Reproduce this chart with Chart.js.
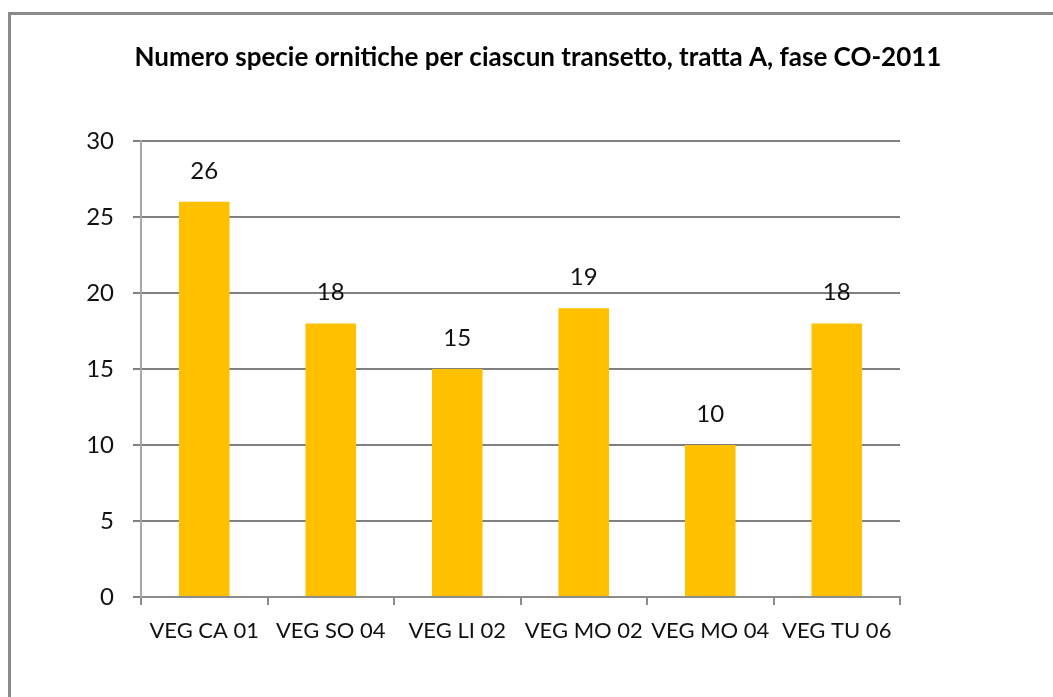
<!DOCTYPE html>
<html>
<head>
<meta charset="utf-8">
<script src="https://cdn.jsdelivr.net/npm/chart.js@4/dist/chart.umd.min.js"></script>
<style>
  html, body { margin: 0; padding: 0; background: #fff; overflow: hidden; }
  #frame { position: absolute; left: 8px; top: 12px; width: 1100px; height: 760px; border: 3px solid #8a8a8a; box-sizing: border-box; }
  #wrap { position: absolute; left: 0; top: 0; width: 1053px; height: 697px; }
</style>
</head>
<body>
<div id="frame"></div>
<div id="wrap"><canvas id="c" width="1053" height="697"></canvas></div>
<script>
const titleText = "Numero specie ornitiche per ciascun transetto, tratta A, fase CO-2011";
const categories = ["VEG CA 01", "VEG SO 04", "VEG LI 02", "VEG MO 02", "VEG MO 04", "VEG TU 06"];
const speciesCounts = [26, 18, 15, 19, 10, 18];
const yTicks = [0, 5, 10, 15, 20, 25, 30];

const FONT = "Lato, 'Open Sans', sans-serif";

const titleDraw = {
  id: 'titleDraw',
  afterDraw(chart) {
    const ctx = chart.ctx;
    ctx.save();
    ctx.font = "bold 26px " + FONT;
    ctx.fillStyle = "#000";
    ctx.textAlign = "center";
    ctx.textBaseline = "middle";
    ctx.fillText(titleText, 538, 58);
    ctx.restore();
  }
};

const valueLabels = {
  id: 'valueLabels',
  afterDatasetsDraw(chart) {
    const ctx = chart.ctx;
    ctx.save();
    ctx.font = "24px " + FONT;
    ctx.fillStyle = "#111";
    ctx.textAlign = "center";
    ctx.textBaseline = "middle";
    chart.getDatasetMeta(0).data.forEach((bar, i) => {
      ctx.fillText(String(speciesCounts[i]), bar.x, bar.y - 31);
    });
    ctx.restore();
  }
};

new Chart(document.getElementById('c'), {
  type: 'bar',
  data: {
    labels: categories,
    datasets: [{
      data: speciesCounts,
      backgroundColor: '#FFC000',
      borderWidth: 0,
      categoryPercentage: 1.0,
      barPercentage: 0.4
    }]
  },
  options: {
    responsive: false,
    animation: false,
    devicePixelRatio: 1,
    layout: { padding: { left: 23, right: 153, top: 141, bottom: 0 } },
    plugins: {
      legend: { display: false },
      tooltip: { enabled: false },
      title: { display: false }
    },
    scales: {
      x: {
        grid: { drawOnChartArea: false, drawTicks: true, tickLength: 8, color: '#8c8c8c', lineWidth: 2, offset: true },
        border: { display: true, color: '#8c8c8c', width: 2 },
        ticks: { color: '#111', font: { family: FONT, size: 22 }, padding: 13, maxRotation: 0, autoSkip: false },
        afterFit(scale) { scale.height = 100; }
      },
      y: {
        min: 0, max: 30,
        afterBuildTicks(scale) { scale.ticks = yTicks.map(v => ({ value: v })); },
        grid: { color: '#7f7f7f', lineWidth: 2, tickLength: 8, drawTicks: true },
        border: { display: true, color: '#a6a6a6', width: 2 },
        ticks: { color: '#111', font: { family: FONT, size: 24 }, padding: 19 },
        afterFit(scale) { scale.width = 118; }
      }
    }
  },
  plugins: [valueLabels, titleDraw]
});
</script>
</body>
</html>
